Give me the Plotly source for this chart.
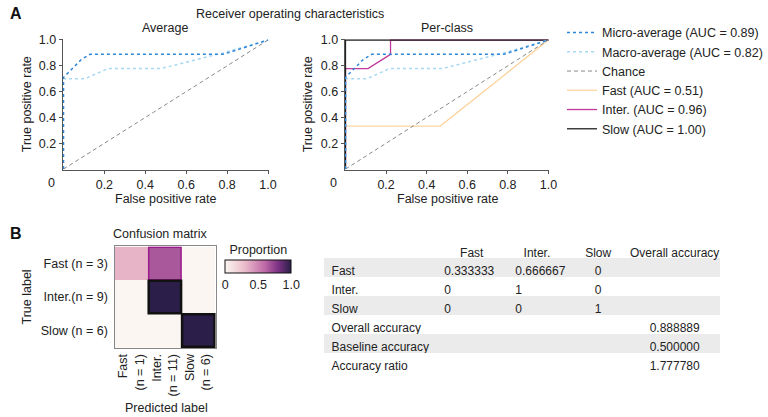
import plotly.graph_objects as go

# ---------------- data ----------------
micro_fpr = [0, 0, 0.088, 0.13, 0.78, 1]
micro_tpr = [0, 0.71, 0.85, 0.889, 0.889, 1]
macro_fpr = [0, 0, 0.105, 0.22, 0.48, 0.78, 1]
macro_tpr = [0, 0.70, 0.70, 0.78, 0.78, 0.90, 1]
chance = [0, 1]
fast_fpr = [0, 0, 0.467, 1]
fast_tpr = [0, 0.333, 0.333, 1]
inter_fpr = [0, 0, 0.111, 0.222, 0.222, 1]
inter_tpr = [0, 0.778, 0.778, 0.889, 1, 1]
slow_fpr = [0, 0, 1]
slow_tpr = [0, 1, 1]

roc_names = ["Micro-average (AUC = 0.89)", "Macro-average (AUC = 0.82)", "Chance",
             "Fast (AUC = 0.51)", "Inter. (AUC = 0.96)", "Slow (AUC = 1.00)"]

cm_true = ["Fast (n = 3)", "Inter.(n = 9)", "Slow (n = 6)"]
cm_pred = ["Fast<br>(n = 1)", "Inter.<br>(n = 11)", "Slow<br>(n = 6)"]
cm_z = [[0.333333, 0.666667, 0], [0, 1, 0], [0, 0, 1]]

tbl_header = ["", "Fast", "Inter.", "Slow", "Overall accuracy"]
tbl_rows = ["Fast", "Inter.", "Slow", "Overall accuracy", "Baseline accuracy", "Accuracy ratio"]
tbl_fast = ["0.333333", "0", "0", "", "", ""]
tbl_inter = ["0.666667", "1", "0", "", "", ""]
tbl_slow = ["0", "0", "1", "", "", ""]
tbl_overall = ["", "", "", "0.888889", "0.500000", "1.777780"]

# ---------------- styles ----------------
FONT = "Liberation Sans, Arial, sans-serif"
FS = 12.5
TXT = "#222"
AX = "#555"
W, H = 768, 417
C_MICRO = "#2f86d6"
C_MACRO = "#a9d8f2"
C_CHANCE = "#888888"
C_FAST = "#fdd5a0"
C_INTER = "#c0399a"
C_SLOW = "#222222"

def px(x):
    return x / W

def py(y):
    return 1 - y / H

def nb(s):
    return s.replace(" ", "\u00a0")

fig = go.Figure()

# per-class curves first (drawn underneath the averages)
fig.add_trace(go.Scatter(x=fast_fpr, y=fast_tpr, mode="lines", name=roc_names[3],
                         line=dict(color=C_FAST, width=1.3), xaxis="x2", yaxis="y2", legendrank=4))
fig.add_trace(go.Scatter(x=inter_fpr, y=inter_tpr, mode="lines", name=roc_names[4],
                         line=dict(color=C_INTER, width=1.3), xaxis="x2", yaxis="y2", legendrank=5))
fig.add_trace(go.Scatter(x=slow_fpr, y=slow_tpr, mode="lines", name=roc_names[5],
                         line=dict(color=C_SLOW, width=1.3), xaxis="x2", yaxis="y2", legendrank=6))

def add_roc(xa, ya, show):
    fig.add_trace(go.Scatter(x=chance, y=chance, mode="lines", name=roc_names[2],
                             line=dict(color=C_CHANCE, width=1, dash="4px,3px"),
                             xaxis=xa, yaxis=ya, showlegend=show, legendrank=3))
    fig.add_trace(go.Scatter(x=macro_fpr, y=macro_tpr, mode="lines", name=roc_names[1],
                             line=dict(color=C_MACRO, width=1.5, dash="dot"),
                             xaxis=xa, yaxis=ya, showlegend=show, legendrank=2))
    fig.add_trace(go.Scatter(x=micro_fpr, y=micro_tpr, mode="lines", name=roc_names[0],
                             line=dict(color=C_MICRO, width=1.5, dash="dot"),
                             xaxis=xa, yaxis=ya, showlegend=show, legendrank=1))

add_roc("x", "y", False)
add_roc("x2", "y2", True)

# confusion matrix heatmap
cscale = [[0, "#fbf6f1"], [0.3, "#ebbccb"], [0.6, "#c06aa8"], [0.8, "#7e3384"], [1, "#2b1f4a"]]
fig.add_trace(go.Heatmap(z=cm_z, x=cm_pred, y=cm_true, xaxis="x3", yaxis="y3",
                         colorscale=cscale, zmin=0, zmax=1, xgap=0, ygap=0,
                         hoverinfo="skip",
                         colorbar=dict(orientation="h", x=px(261), xanchor="center",
                                       y=py(244), yanchor="top", lenmode="pixels", len=66,
                                       thickness=13, outlinecolor="#111", outlinewidth=1,
                                       xpad=0, ypad=0,
                                       title=dict(text="Proportion", side="top",
                                                  font=dict(size=FS, color=TXT, family=FONT)),
                                       tickvals=[0, 0.5, 1], ticktext=["0", "0.5", "1.0"],
                                       ticks="", tickfont=dict(size=FS, color=TXT, family=FONT))))

# table
grey = "#ebebeb"
row_fill = [grey if i % 2 == 0 else "white" for i in range(len(tbl_rows))]
fig.add_trace(go.Table(
    domain=dict(x=[px(327), px(728)], y=[py(385), py(237.5)]),
    columnwidth=[114, 72, 60, 64, 91],
    header=dict(values=[nb(s) for s in tbl_header], fill_color="white", line_color="rgba(0,0,0,0)",
                align=["left", "center", "center", "center", "center"], height=18,
                font=dict(size=12, color=TXT, family=FONT)),
    cells=dict(values=[[nb(s) for s in tbl_rows], tbl_fast, tbl_inter, tbl_slow, tbl_overall],
               fill_color=[row_fill] * 5, line_color="rgba(0,0,0,0)",
               align=["left", "left", "left", "center", "center"], height=19,
               font=dict(size=12, color=TXT, family=FONT))))

# ---------------- layout ----------------
tickfont = dict(size=FS, color=TXT, family=FONT)
def roc_x(dom):
    return dict(domain=dom, range=[-0.004, 1.004], tickvals=[0.2, 0.4, 0.6, 0.8, 1.0],
                ticktext=["0.2", "0.4", "0.6", "0.8", "1.0"], showgrid=False, zeroline=False,
                showline=True, linecolor=AX, linewidth=1, ticks="outside", ticklen=3,
                tickcolor=AX, tickfont=tickfont)
def roc_y(dom, anchor):
    return dict(domain=dom, anchor=anchor, range=[-0.004, 1.006], tickvals=[0.2, 0.4, 0.6, 0.8, 1.0],
                ticktext=["0.2", "0.4", "0.6", "0.8", "1.0"], showgrid=False, zeroline=False,
                showline=True, linecolor=AX, linewidth=1, ticks="outside", ticklen=3,
                tickcolor=AX, tickfont=tickfont)

ydom = [py(166), py(33.7)]
fig.update_layout(
    width=W, height=H, margin=dict(l=0, r=0, t=0, b=0),
    paper_bgcolor="white", plot_bgcolor="white",
    font=dict(family=FONT, size=FS, color=TXT),
    xaxis=dict(**roc_x([px(63.3), px(271.7)]), anchor="y"),
    yaxis=roc_y(ydom, "x"),
    xaxis2=dict(**roc_x([px(348.3), px(555)]), anchor="y2"),
    yaxis2=roc_y(ydom, "x2"),
    xaxis3=dict(domain=[px(116), px(218)], anchor="y3", tickangle=-90, showgrid=False,
                zeroline=False, showline=True, mirror=True, linecolor="#888", linewidth=1,
                ticks="", tickfont=tickfont),
    yaxis3=dict(domain=[py(347), py(244)], anchor="x3", autorange="reversed", showgrid=False,
                zeroline=False, showline=True, mirror=True, linecolor="#888", linewidth=1,
                ticks="", tickfont=tickfont, ticksuffix=" "),
    legend=dict(x=px(568), y=py(76), xanchor="left", yanchor="middle", bgcolor="rgba(0,0,0,0)",
                font=dict(size=FS, color=TXT, family=FONT), itemwidth=30, traceorder="normal"),
    showlegend=True,
)

# cell borders for the heatmap (derived from the data)
for i, row in enumerate(cm_z):
    for j, v in enumerate(row):
        if v > 0.5:
            col = "#111111" if v >= 0.99 else "#9b1b8a"
            wd = 2.5 if v >= 0.99 else 1.5
            fig.add_shape(type="rect", xref="x3", yref="y3", x0=j - 0.485, x1=j + 0.485,
                          y0=i - 0.485, y1=i + 0.485, line=dict(color=col, width=wd),
                          fillcolor="rgba(0,0,0,0)")

ann = [
    dict(text="<b>A</b>", x=px(8), y=py(8), xanchor="left", yanchor="middle", font=dict(size=16, color="#111")),
    dict(text="<b>B</b>", x=px(8), y=py(231), xanchor="left", yanchor="middle", font=dict(size=16, color="#111")),
    dict(text="Receiver operating characteristics", x=px(293), y=py(8), xanchor="center", yanchor="middle"),
    dict(text="Average", x=px(167), y=py(22), xanchor="center", yanchor="middle"),
    dict(text="Per-class", x=px(452), y=py(22), xanchor="center", yanchor="middle"),
    dict(text="True positive rate", x=px(27), y=py(100), textangle=-90, xanchor="center", yanchor="middle"),
    dict(text="True positive rate", x=px(311), y=py(100), textangle=-90, xanchor="center", yanchor="middle"),
    dict(text="False positive rate", x=px(167), y=py(196), xanchor="center", yanchor="middle"),
    dict(text="False positive rate", x=px(452), y=py(196), xanchor="center", yanchor="middle"),
    dict(text="0", x=px(52), y=py(180), xanchor="center", yanchor="middle"),
    dict(text="0", x=px(337), y=py(180), xanchor="center", yanchor="middle"),
    dict(text="Confusion matrix", x=px(162), y=py(231), xanchor="center", yanchor="middle"),
    dict(text="True label", x=px(27), y=py(295), textangle=-90, xanchor="center", yanchor="middle"),
    dict(text="Predicted label", x=px(168), y=py(408), xanchor="center", yanchor="middle"),
]
for a in ann:
    a.setdefault("font", dict(size=FS, color=TXT, family=FONT))
    fig.add_annotation(xref="paper", yref="paper", showarrow=False, **a)

fig.write_html("out.html")
